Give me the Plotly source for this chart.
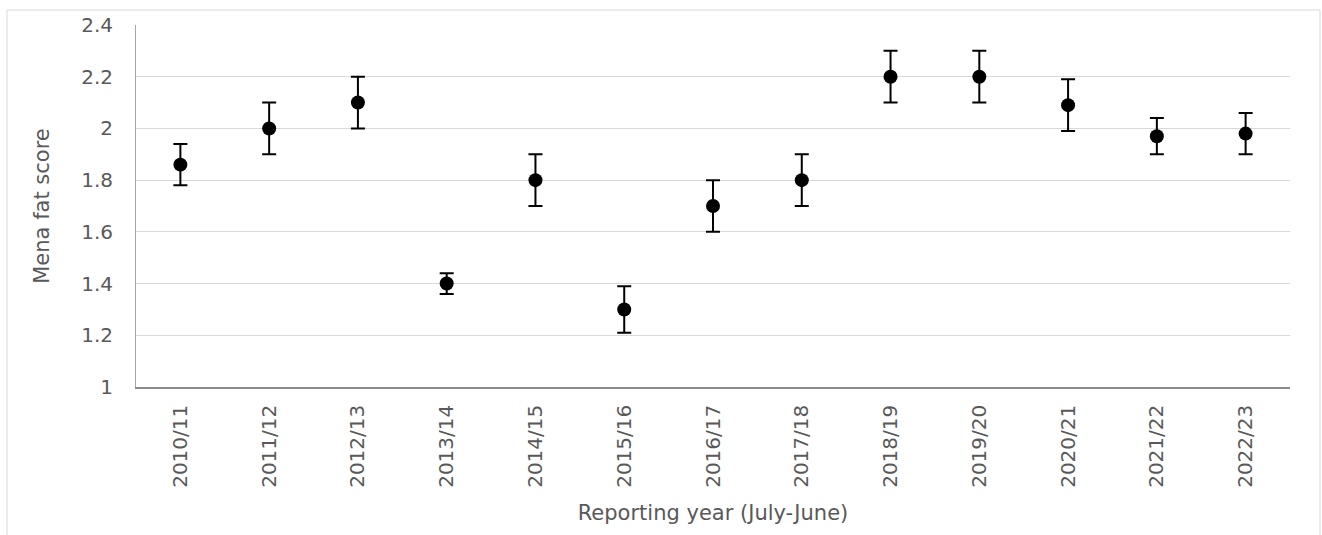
import plotly.graph_objects as go

# Reporting years and mean fat score with error margins
years = ["2010/11", "2011/12", "2012/13", "2013/14", "2014/15", "2015/16", "2016/17",
         "2017/18", "2018/19", "2019/20", "2020/21", "2021/22", "2022/23"]
mean_score = [1.86, 2.0, 2.1, 1.4, 1.8, 1.3, 1.7, 1.8, 2.2, 2.2, 2.09, 1.97, 1.98]
err_plus = [0.08, 0.1, 0.1, 0.04, 0.1, 0.09, 0.1, 0.1, 0.1, 0.1, 0.1, 0.07, 0.08]
err_minus = [0.08, 0.1, 0.1, 0.04, 0.1, 0.09, 0.1, 0.1, 0.1, 0.1, 0.1, 0.07, 0.08]

W, H = 1322, 535
ML, MR, MT, MB = 136, 32, 25, 148
font_family = "DejaVu Sans, Liberation Sans, Arial, sans-serif"
text_color = "#595959"

fig = go.Figure(
    go.Scatter(
        x=years,
        y=mean_score,
        mode="markers",
        marker=dict(color="black", size=14),
        error_y=dict(
            type="data",
            symmetric=False,
            array=err_plus,
            arrayminus=err_minus,
            color="black",
            thickness=2,
            width=7,
        ),
        showlegend=False,
    )
)

# Outer chart frame, expressed in paper coordinates of the plot area
pw, ph = W - ML - MR, H - MT - MB
def px_x(v):
    return (v - ML) / pw
def px_y(v):
    return (H - MB - v) / ph

fig.add_shape(
    type="rect", xref="paper", yref="paper",
    x0=px_x(7), x1=px_x(1320), y0=px_y(545), y1=px_y(10),
    line=dict(color="#d9d9d9", width=1), fillcolor="rgba(0,0,0,0)", layer="below",
)

fig.update_layout(
    width=W, height=H,
    margin=dict(l=ML, r=MR, t=MT, b=MB),
    paper_bgcolor="white", plot_bgcolor="white",
    font=dict(family=font_family, size=20, color=text_color),
    xaxis=dict(
        type="category",
        tickangle=-90,
        tickfont=dict(size=20, color=text_color),
        showgrid=False,
        showline=True, linecolor="#8c8c8c", linewidth=1.5,
        ticks="", ticklen=0,
        ticklabelstandoff=8,
        title=dict(text="Reporting year (July-June)", font=dict(size=21, color=text_color), standoff=18),
        range=[-0.5, len(years) - 0.5],
    ),
    yaxis=dict(
        range=[1, 2.4],
        dtick=0.2,
        showgrid=True, gridcolor="#d9d9d9", gridwidth=1,
        showline=True, linecolor="#a6a6a6", linewidth=1,
        zeroline=False,
        ticks="",
        tickfont=dict(size=20, color=text_color),
        ticklabelstandoff=18,
        title=dict(text="Mena fat score", font=dict(size=21, color=text_color), standoff=25),
    ),
)

fig.write_html("out.html")
